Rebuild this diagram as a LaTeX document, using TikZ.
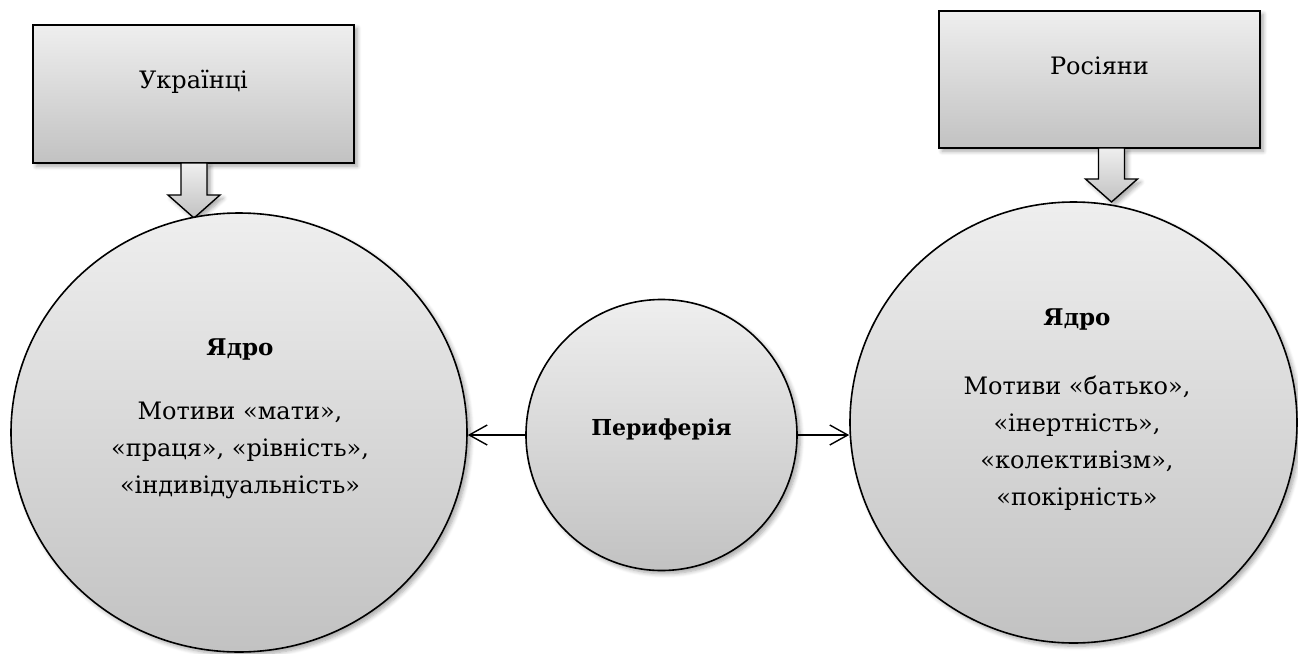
\documentclass[tikz,border=0pt]{standalone}
\usepackage{fontspec}
\setmainfont{DejaVu Serif}
\usetikzlibrary{arrows.meta,shadows.blur,shapes.geometric}
\definecolor{shadetop}{gray}{0.935}
\definecolor{shadebot}{gray}{0.76}
\newcommand\blockarr[3]{% x of shaft centre, top, tip
  \draw[barrow] (#1-13,#2) -- (#1+13,#2) -- (#1+13,#3-23) -- (#1+26,#3-23)
    -- (#1,#3) -- (#1-26,#3-23) -- (#1-13,#3-23) -- cycle;
}

\begin{document}
\begin{tikzpicture}[line join=miter, x=0.5pt, y=-0.5pt,
    gfill/.style={top color=shadetop, bottom color=shadebot},
    soft/.style={blur shadow={shadow xshift=1.6pt, shadow yshift=-1.6pt,
      shadow blur steps=6, shadow opacity=35}},
    hbox/.style={draw, line width=1.1pt, gfill, soft, minimum width=160.5pt,
      minimum height=69pt, inner sep=0pt},
    core/.style={draw, line width=0.8pt, ellipse, gfill, soft, inner sep=0pt},
    barrow/.style={draw, line width=0.7pt, gfill, soft},
    words/.style={align=center, font=\fontsize{12}{18.5}\selectfont},
    ttl/.style={font=\fontsize{12}{16}\selectfont}]
  \useasboundingbox (0,0) rectangle (1298,654);
  % Top boxes.
  \node[hbox] (ukr) at (193.5,94) {};
  \node[ttl, anchor=base] (ukrtxt) at ([yshift=3pt]ukr.center) {Українці};
  \node[hbox, minimum height=68.5pt] (rus) at (1099.5,79.5) {};
  \node[ttl, anchor=base] (rustxt) at ([yshift=2.3pt]rus.center) {Росіяни};
  % Block arrows down to the cores.
  \blockarr{194}{163}{218}
  \blockarr{1111.5}{148}{202}
  % The three circles.
  \node[core, minimum width=228pt, minimum height=219.5pt] (lcore) at (239,432.5) {};
  \node[core, circle, minimum size=135.5pt] (peri) at (661.5,435) {};
  \node[core, minimum width=223.5pt, minimum height=220.5pt] (rcore) at (1073.5,422.5) {};
  % Texts (base = last line).
  \node[anchor=base, font=\fontsize{11.5}{15}\bfseries] (ltitle) at (240,355) {Ядро};
  \node[words, anchor=base] (lbody) at (240,493)
    {Мотиви «мати»,\\«праця», «рівність»,\\«індивідуальність»};
  \node[font=\fontsize{11}{16}\bfseries] (ptitle) at ([yshift=3pt]peri.center) {Периферія};
  \node[anchor=base, font=\fontsize{11.5}{15}\bfseries] (rtitle) at (1077,325) {Ядро};
  \node[words, anchor=base] (rbody) at (1077,505)
    {Мотиви «батько»,\\«інертність»,\\«колективізм»,\\«покірність»};
  % Links from the periphery.
  \draw[line width=0.7pt, -{Straight Barb[length=9pt, width=10pt]}] (peri.west) -- (peri.west -| lcore.east);
  \draw[line width=0.7pt, -{Straight Barb[length=9pt, width=10pt]}] (peri.east) -- (peri.east -| rcore.west);
\end{tikzpicture}
\end{document}
